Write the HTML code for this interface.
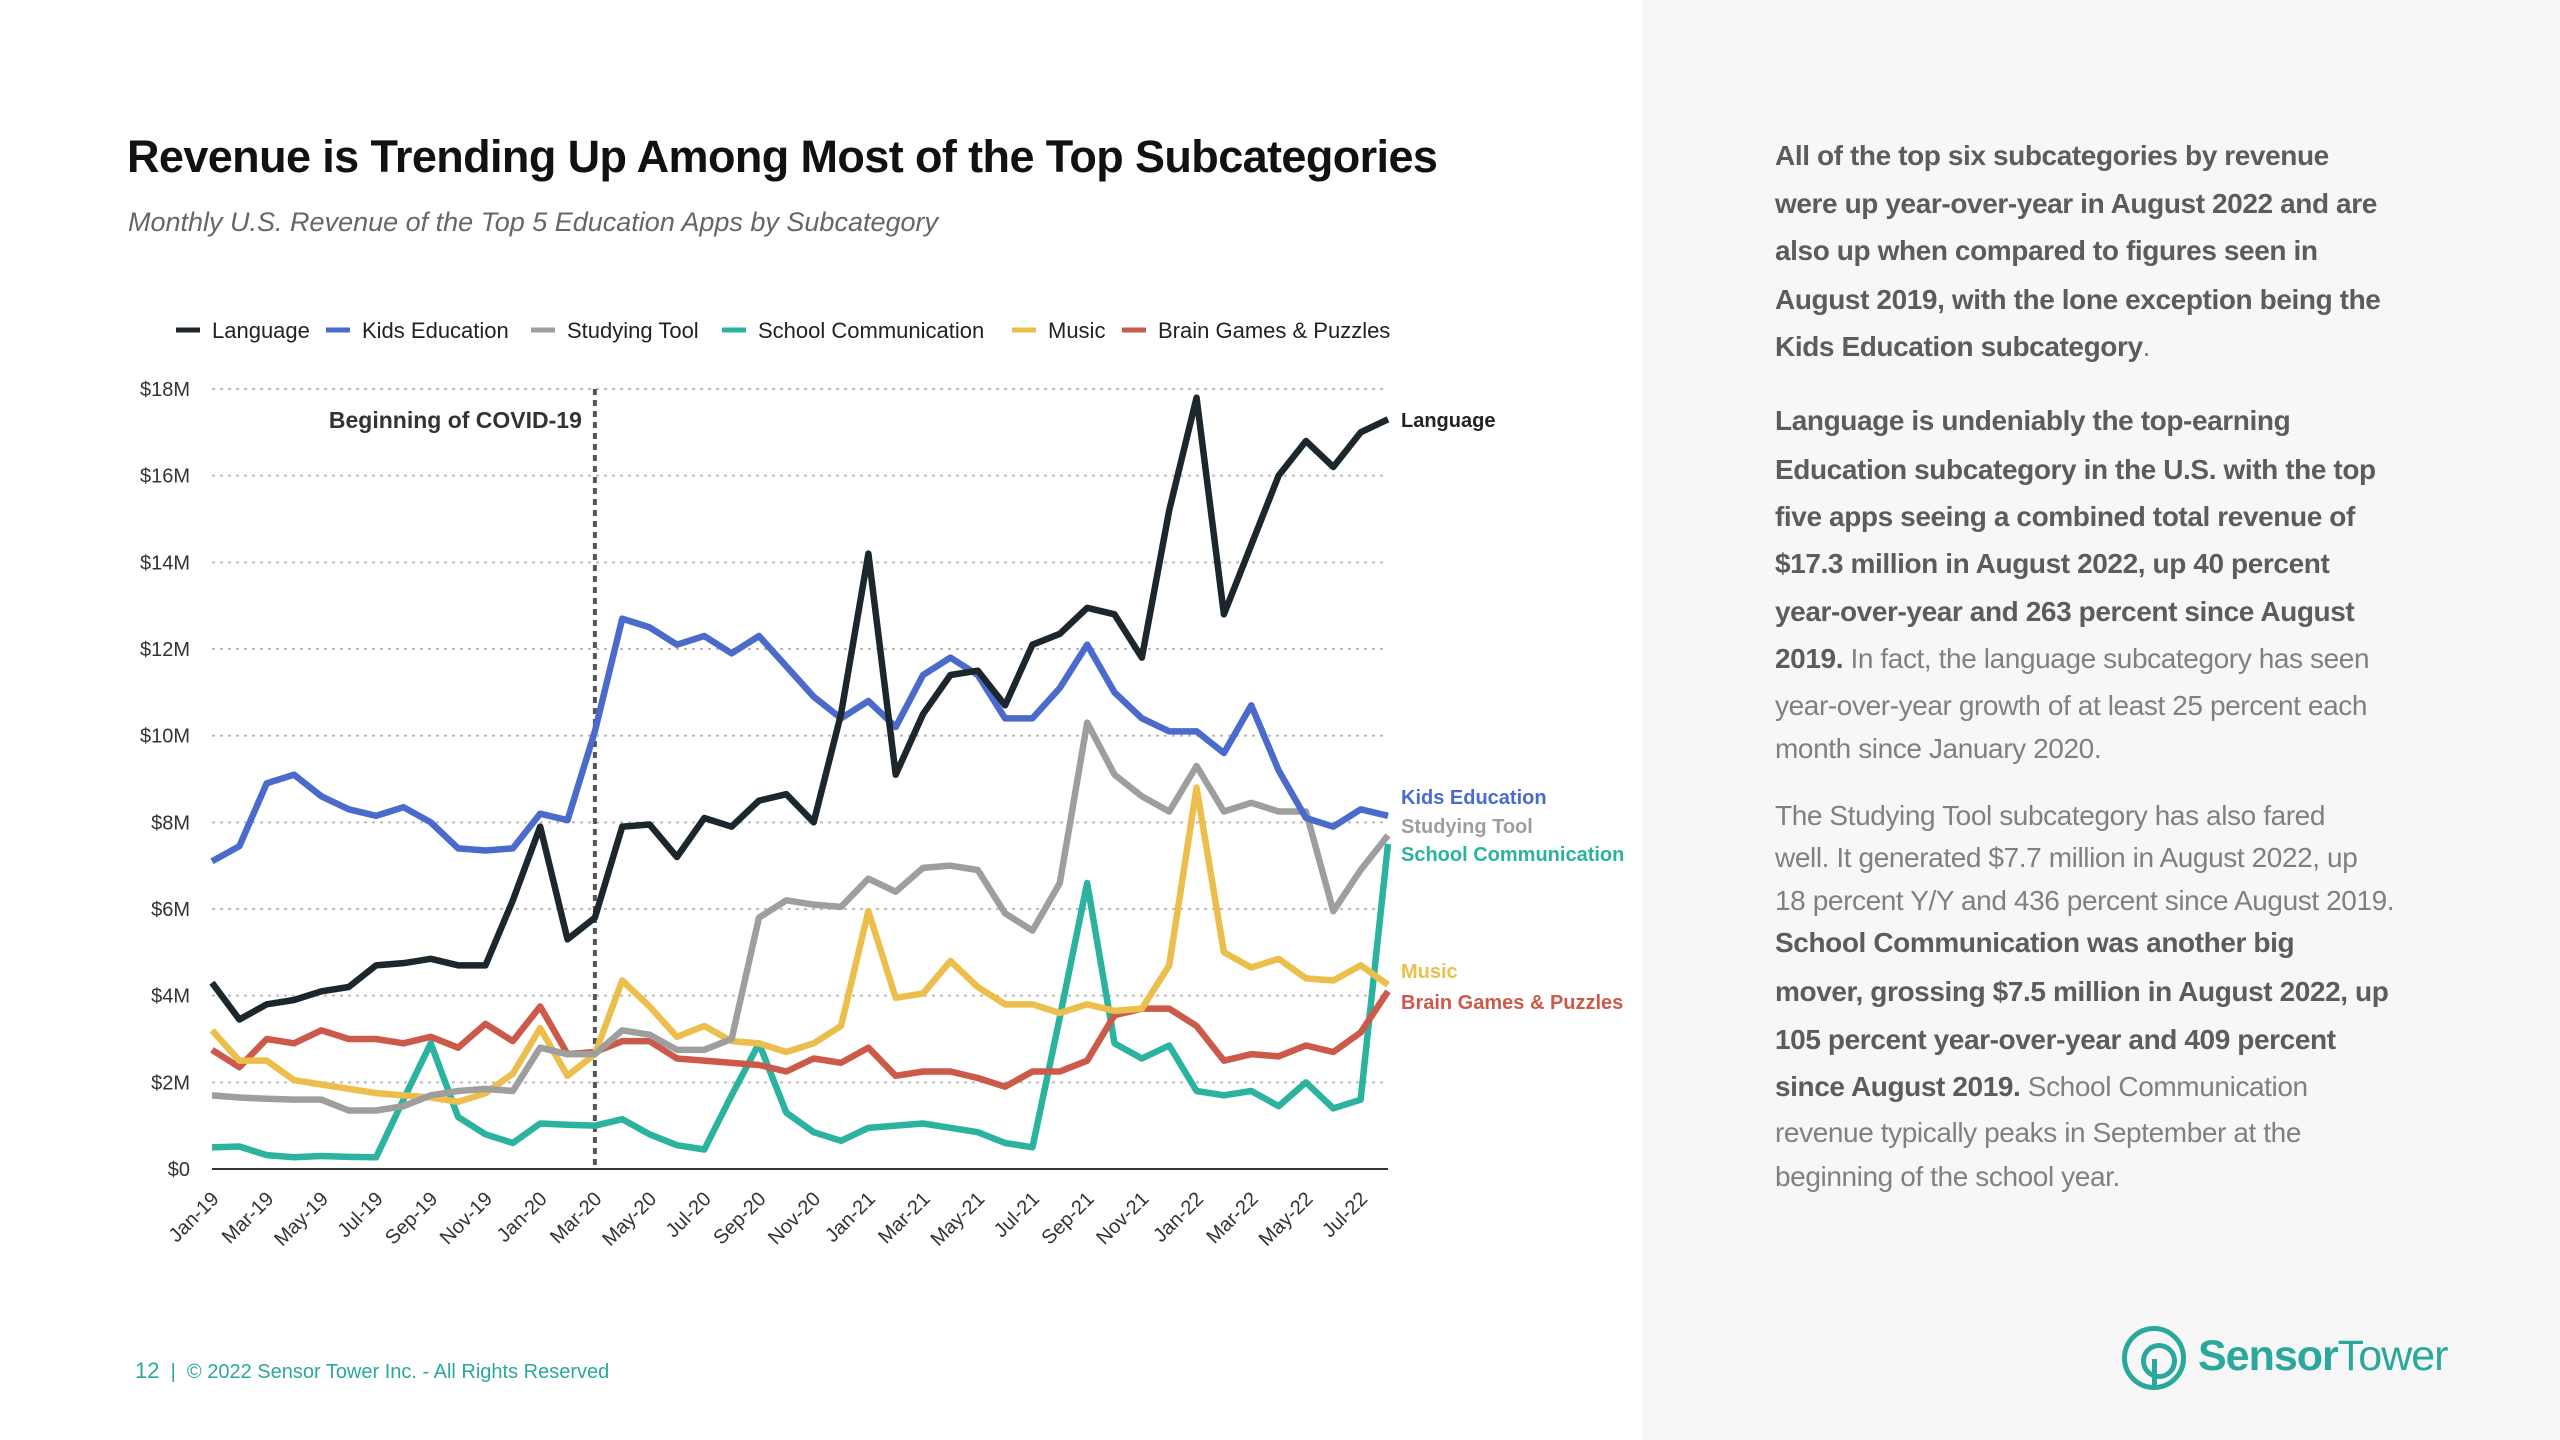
<!DOCTYPE html>
<html><head><meta charset="utf-8">
<style>
body{margin:0;width:2560px;height:1440px;overflow:hidden;background:#fff;font-family:"Liberation Sans",sans-serif;position:relative}
.abs{position:absolute;white-space:nowrap}
#panel{position:absolute;left:1643px;top:0;width:917px;height:1440px;background:#f7f7f7}
.ln{position:absolute;left:1775px;font-size:28px;letter-spacing:-0.4px;color:#5c5c5c;white-space:nowrap;transform:translateY(-50%)}
.b{font-weight:bold}
.n{color:#808080}
</style></head><body>
<div id="panel"></div>
<div class="abs" style="left:127px;top:131px;font-size:45px;letter-spacing:-0.6px;font-weight:bold;color:#111">Revenue is Trending Up Among Most of the Top Subcategories</div>
<div class="abs" style="left:128px;top:207px;font-size:27px;font-style:italic;color:#666">Monthly U.S. Revenue of the Top 5 Education Apps by Subcategory</div>

<div>
<div class="ln b" style="top:156px">All of the top six subcategories by revenue</div>
<div class="ln b" style="top:204px">were up year-over-year in August 2022 and are</div>
<div class="ln b" style="top:251px">also up when compared to figures seen in</div>
<div class="ln b" style="top:300px">August 2019, with the lone exception being the</div>
<div class="ln" style="top:347px"><span class="b">Kids Education subcategory</span><span class="n">.</span></div>
<div class="ln b" style="top:421px">Language is undeniably the top-earning</div>
<div class="ln b" style="top:470px">Education subcategory in the U.S. with the top</div>
<div class="ln b" style="top:517px">five apps seeing a combined total revenue of</div>
<div class="ln b" style="top:564px">$17.3 million in August 2022, up 40 percent</div>
<div class="ln b" style="top:612px">year-over-year and 263 percent since August</div>
<div class="ln" style="top:659px"><span class="b">2019.</span><span class="n"> In fact, the language subcategory has seen</span></div>
<div class="ln n" style="top:706px">year-over-year growth of at least 25 percent each</div>
<div class="ln n" style="top:749px">month since January 2020.</div>
<div class="ln n" style="top:816px">The Studying Tool subcategory has also fared</div>
<div class="ln n" style="top:858px">well. It generated $7.7 million in August 2022, up</div>
<div class="ln n" style="top:901px">18 percent Y/Y and 436 percent since August 2019.</div>
<div class="ln b" style="top:943px">School Communication was another big</div>
<div class="ln b" style="top:992px">mover, grossing $7.5 million in August 2022, up</div>
<div class="ln b" style="top:1040px">105 percent year-over-year and 409 percent</div>
<div class="ln" style="top:1087px"><span class="b">since August 2019.</span><span class="n"> School Communication</span></div>
<div class="ln n" style="top:1133px">revenue typically peaks in September at the</div>
<div class="ln n" style="top:1177px">beginning of the school year.</div>
</div>

<div class="abs" style="left:135px;top:1358px;font-size:20px;color:#2aa89c"><span style="font-size:22px">12</span> &nbsp;|&nbsp; © 2022 Sensor Tower Inc. - All Rights Reserved</div>
<div style="position:absolute;left:2122px;top:1326px;width:64px;height:64px;border:5px solid #2aa89c;border-radius:50%;box-sizing:border-box">
<div style="position:absolute;left:14px;top:12px;width:26px;height:26px;border:5px solid #2aa89c;border-radius:50%"></div>
<div style="position:absolute;left:25px;top:28px;width:5px;height:30px;background:#2aa89c"></div></div>
<div class="abs" style="left:2198px;top:1332px;font-size:43px;font-weight:bold;color:#2aa89c;letter-spacing:-1px">Sensor<span style="font-weight:normal">Tower</span></div>

<svg id="chart" style="position:absolute;left:0;top:0" width="1643" height="1440" font-family="Liberation Sans, sans-serif"></svg>
<script>
const months=["Jan-19","Feb-19","Mar-19","Apr-19","May-19","Jun-19","Jul-19","Aug-19","Sep-19","Oct-19","Nov-19","Dec-19","Jan-20","Feb-20","Mar-20","Apr-20","May-20","Jun-20","Jul-20","Aug-20","Sep-20","Oct-20","Nov-20","Dec-20","Jan-21","Feb-21","Mar-21","Apr-21","May-21","Jun-21","Jul-21","Aug-21","Sep-21","Oct-21","Nov-21","Dec-21","Jan-22","Feb-22","Mar-22","Apr-22","May-22","Jun-22","Jul-22","Aug-22"];
const yTicks=[0,2,4,6,8,10,12,14,16,18];
const language=[4.3,3.45,3.8,3.9,4.1,4.2,4.7,4.75,4.85,4.7,4.7,6.2,7.9,5.3,5.8,7.9,7.95,7.2,8.1,7.9,8.5,8.65,8.0,10.5,14.2,9.1,10.5,11.4,11.5,10.7,12.1,12.35,12.95,12.8,11.8,15.2,17.8,12.8,14.4,16.0,16.8,16.2,17.0,17.3];
const kidsEducation=[7.1,7.45,8.9,9.1,8.6,8.3,8.15,8.35,8.0,7.4,7.35,7.4,8.2,8.05,10.1,12.7,12.5,12.1,12.3,11.9,12.3,11.6,10.9,10.4,10.8,10.2,11.4,11.8,11.4,10.4,10.4,11.1,12.1,11.0,10.4,10.1,10.1,9.6,10.7,9.2,8.1,7.9,8.3,8.15];
const studyingTool=[1.7,1.65,1.62,1.6,1.6,1.35,1.35,1.45,1.7,1.8,1.85,1.8,2.8,2.65,2.65,3.2,3.1,2.75,2.75,3.0,5.8,6.2,6.1,6.05,6.7,6.4,6.95,7.0,6.9,5.9,5.5,6.6,10.3,9.1,8.6,8.25,9.3,8.25,8.45,8.25,8.25,5.95,6.9,7.7];
const schoolComm=[0.5,0.52,0.32,0.27,0.3,0.28,0.27,1.6,2.9,1.2,0.8,0.6,1.05,1.02,1.0,1.15,0.8,0.55,0.45,1.7,2.9,1.3,0.85,0.65,0.95,1.0,1.05,0.95,0.85,0.6,0.5,3.5,6.6,2.9,2.55,2.85,1.8,1.7,1.8,1.45,2.0,1.4,1.6,7.5];
const music=[3.2,2.5,2.5,2.05,1.95,1.85,1.75,1.7,1.65,1.55,1.75,2.2,3.25,2.15,2.65,4.35,3.75,3.05,3.3,2.95,2.9,2.7,2.9,3.3,5.95,3.95,4.05,4.8,4.2,3.8,3.8,3.6,3.8,3.65,3.7,4.7,8.8,5.0,4.65,4.85,4.4,4.35,4.7,4.25];
const brainGames=[2.75,2.35,3.0,2.9,3.2,3.0,3.0,2.9,3.05,2.8,3.35,2.95,3.75,2.65,2.7,2.95,2.95,2.55,2.5,2.45,2.4,2.25,2.55,2.45,2.8,2.15,2.25,2.25,2.1,1.9,2.25,2.25,2.5,3.55,3.7,3.7,3.3,2.5,2.65,2.6,2.85,2.7,3.15,4.1];
const seriesNames=["Language","Kids Education","Studying Tool","School Communication","Music","Brain Games & Puzzles"];
const covidIndex=14;

const svg=document.getElementById('chart');
const NS='http://www.w3.org/2000/svg';
const X0=212,X1=1388,Y0=1169,Y1=389,YMAX=18;
const xs=i=>X0+i*(X1-X0)/(months.length-1);
const ys=v=>Y0-v*(Y0-Y1)/YMAX;
function mk(tag,attrs,parent){const e=document.createElementNS(NS,tag);for(const k in attrs)e.setAttribute(k,attrs[k]);(parent||svg).appendChild(e);return e;}

yTicks.forEach(t=>{
  const g=mk('line',{x1:X0,x2:X1,y1:ys(t),y2:ys(t),stroke:t===0?'#333':'#bbb','stroke-width':2,'stroke-dasharray':t===0?'':'3 5'});
  
  
  const tx=mk('text',{x:190,y:ys(t)+7,'text-anchor':'end','font-size':20,fill:'#333'});
  tx.textContent='$'+(t===0?'0':t+'M');
  
  
});
months.forEach((m,i)=>{
  if(i%2)return;
  const x=xs(i)+8,y=1200;
  const tx=mk('text',{x:x,y:y,'text-anchor':'end','font-size':20,fill:'#333',transform:`rotate(-45 ${x} ${y})`});
  tx.textContent=m;
  
  
});
const cv=mk('line',{x1:xs(covidIndex),x2:xs(covidIndex),y1:Y1,y2:Y0,stroke:'#555','stroke-width':4,'stroke-dasharray':'6 5'});


const ct=mk('text',{x:xs(covidIndex)-13,y:428,'text-anchor':'end','font-size':23,'font-weight':'bold',fill:'#333'});
ct.textContent='Beginning of COVID-19';



const data=[language,kidsEducation,studyingTool,schoolComm,music,brainGames];
const colors=['#1c272d','#4a6bcb','#9e9e9e','#2bb3a0','#ecbf4c','#cc5a4a'];
const order=[3,5,4,2,1,0];
order.forEach(s=>{
  const p=mk('polyline',{points:data[s].map((v,i)=>xs(i)+','+ys(v)).join(' '),fill:'none',stroke:colors[s],'stroke-width':6.5,'stroke-linejoin':'round'});
  
  
});
const labelY=[427,804,833,861,978,1009];
seriesNames.forEach((n,s)=>{
  const t=mk('text',{x:1401,y:labelY[s],'font-size':20,'font-weight':'bold',fill:s===0?'#222':colors[s]});
  t.textContent=n;
  
  
});
const legX=[176,326,531,722,1012,1122];
seriesNames.forEach((n,s)=>{
  const l=mk('line',{x1:legX[s],x2:legX[s]+24,y1:330,y2:330,stroke:colors[s],'stroke-width':5});
  
  
  const t=mk('text',{x:legX[s]+36,y:338,'font-size':22,fill:'#222'});
  t.textContent=n;
  
  
});
</script>
</body></html>
